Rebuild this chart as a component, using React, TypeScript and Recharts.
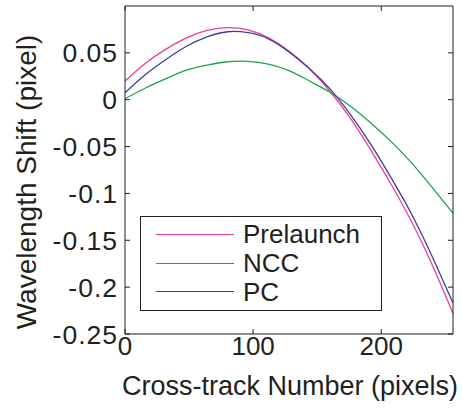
import { LineChart, Line, XAxis, YAxis } from 'recharts';

const FONT = '"Liberation Sans", Arial, sans-serif';
const INK = '#231f20';

// cross-track pixel positions
const crossTrack = [0, 16, 32, 48, 64, 80, 96, 112, 128, 144, 160, 176, 192, 208, 224, 240, 256];
// wavelength shift (pixel) per method
const prelaunch = [0.02, 0.039, 0.054, 0.066, 0.074, 0.077, 0.0745, 0.066, 0.052, 0.033, 0.009, -0.02, -0.054, -0.091, -0.131, -0.177, -0.228];
const ncc = [0.001, 0.0125, 0.0225, 0.0315, 0.037, 0.0405, 0.041, 0.038, 0.031, 0.02, 0.008, -0.007, -0.025, -0.045, -0.068, -0.094, -0.121];
const pc = [0.0075, 0.027, 0.043, 0.057, 0.067, 0.0725, 0.0715, 0.065, 0.051, 0.033, 0.0115, -0.016, -0.048, -0.084, -0.123, -0.168, -0.217];

const series = [
  { key: 'prelaunch', name: 'Prelaunch', color: '#ee3c96' },
  { key: 'ncc', name: 'NCC', color: '#19a64a' },
  { key: 'pc', name: 'PC', color: '#3d3f98' },
];
const xDomain = [0, 256];
const yDomain = [-0.25, 0.1];
const xTicks = [0, 100, 200];
const yTicks = [-0.25, -0.2, -0.15, -0.1, -0.05, 0, 0.05];

const points = crossTrack.map((x, i) => ({ x, prelaunch: prelaunch[i], ncc: ncc[i], pc: pc[i] }));

// chart geometry
const W = 462;
const H = 411;
const margin = { top: 6, right: 9, left: 0, bottom: 0 };
const X_AXIS_H = 77;
const Y_AXIS_W = 125;
const PLOT_W = W - margin.left - margin.right - Y_AXIS_W;
const PLOT_H = H - margin.top - margin.bottom - X_AXIS_H;

// bottom tick: label + inward tick, plus the mirrored tick on the top edge
// (first tick also draws the top edge of the box)
const BottomTick = ({ x, y, payload, index }: any) => (
  <g>
    {index === 0 && <line x1={x} y1={y - PLOT_H} x2={x + PLOT_W} y2={y - PLOT_H} stroke={INK} />}
    <line x1={x} y1={y} x2={x} y2={y - 5} stroke={INK} />
    <line x1={x} y1={y - PLOT_H} x2={x} y2={y - PLOT_H + 5} stroke={INK} />
    <text x={x} y={y + 21} textAnchor="middle" fontSize={26} fill={INK} fontFamily={FONT}>
      {payload.value}
    </text>
  </g>
);

// left tick: label + inward tick, plus the mirrored tick on the right edge
// (first tick also draws the right edge of the box)
const LeftTick = ({ x, y, payload, index }: any) => (
  <g>
    {index === 0 && <line x1={x + PLOT_W} y1={y} x2={x + PLOT_W} y2={y - PLOT_H} stroke={INK} />}
    <line x1={x} y1={y} x2={x + 5} y2={y} stroke={INK} />
    <line x1={x + PLOT_W} y1={y} x2={x + PLOT_W - 5} y2={y} stroke={INK} />
    <text x={x - 7} y={y} dy="0.36em" textAnchor="end" fontSize={26.5} letterSpacing={1} fill={INK} fontFamily={FONT}>
      {payload.value}
    </text>
  </g>
);

const xLabel = () => (
  <text x={290} y={395} textAnchor="middle" fontSize={27} fill={INK} fontFamily={FONT}>
    Cross-track Number (pixels)
  </text>
);

const yLabel = () => (
  <text transform="translate(36,182) rotate(-90)" textAnchor="middle" fontSize={28} fill={INK} fontFamily={FONT}>
    Wavelength Shift (pixel)
  </text>
);

const LegendBox = () => (
  <div
    style={{
      position: 'absolute', left: 140, top: 216, width: 242, height: 95,
      border: `1px solid ${INK}`, boxSizing: 'border-box', background: '#fff',
    }}
  >
    {series.map((s, i) => (
      <div key={s.key} style={{ position: 'absolute', left: 0, top: 3.3 + i * 28.7, height: 28, display: 'flex', alignItems: 'center' }}>
        <div style={{ marginLeft: 15, width: 78, height: 0, borderTop: `1.3px solid ${s.color}` }} />
        <span style={{ marginLeft: 9, fontSize: 26, lineHeight: '28px', fontFamily: FONT, color: INK }}>{s.name}</span>
      </div>
    ))}
  </div>
);

export default function App() {
  return (
    <div style={{ position: 'absolute', left: 0, top: 0, width: W, height: H, background: '#fff' }}>
      <LineChart width={W} height={H} data={points} margin={margin}>
        <XAxis
          dataKey="x"
          type="number"
          domain={xDomain}
          ticks={xTicks}
          height={X_AXIS_H}
          tickSize={0}
          tickMargin={0}
          tick={BottomTick}
          axisLine={{ stroke: INK }}
          label={xLabel}
        />
        <YAxis
          type="number"
          domain={yDomain}
          ticks={yTicks}
          width={Y_AXIS_W}
          tickSize={0}
          tickMargin={0}
          tick={LeftTick}
          axisLine={{ stroke: INK }}
          label={yLabel}
        />
        {series.map((s) => (
          <Line
            key={s.key}
            name={s.name}
            dataKey={s.key}
            type="natural"
            stroke={s.color}
            strokeWidth={1.3}
            dot={false}
            isAnimationActive={false}
          />
        ))}
      </LineChart>
      <LegendBox />
    </div>
  );
}
